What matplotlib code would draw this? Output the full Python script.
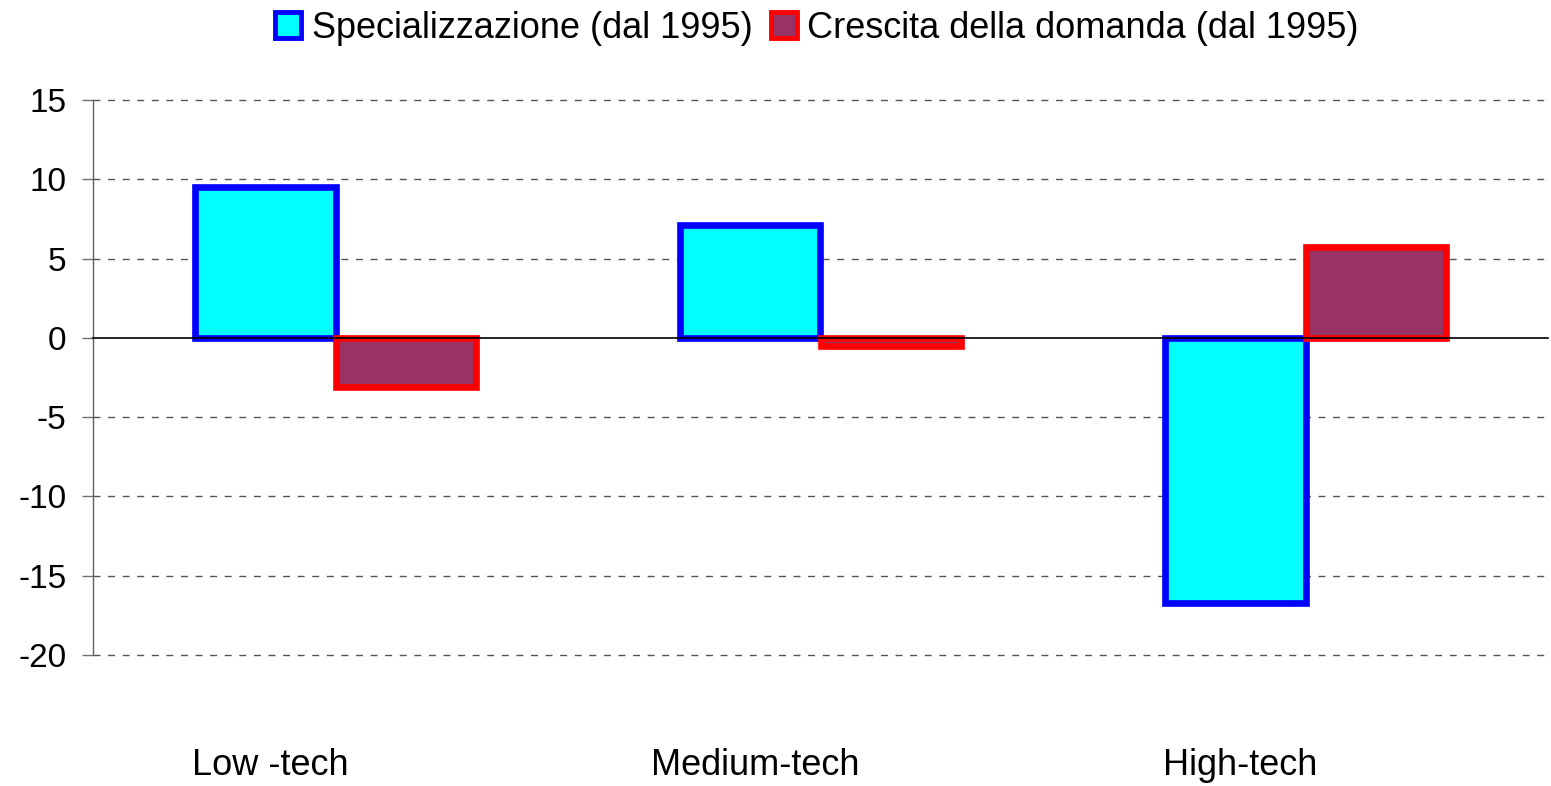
import numpy as np
import matplotlib
matplotlib.use("Agg")
import matplotlib.pyplot as plt
from matplotlib.patches import Patch

categories = ["Low -tech", "Medium-tech", "High-tech"]
specializzazione = [9.5, 7.1, -16.7]
crescita_domanda = [-3.1, -0.5, 5.7]
series_names = ["Specializzazione (dal 1995)", "Crescita della domanda (dal 1995)"]
yticks = [15, 10, 5, 0, -5, -10, -15, -20]

plt.rcParams['font.family'] = ['Liberation Sans', 'DejaVu Sans']

fig = plt.figure(figsize=(15.51, 7.86), dpi=100)
ax = fig.add_axes([93/1551, 1-655/786, (1548-93)/1551, (655-100)/786])

x = np.arange(len(categories))
w = 0.29
lw_bar = 4.8
ax.bar(x - w/2, specializzazione, width=w, color='#00FFFF', edgecolor='#0000FF',
       linewidth=lw_bar, zorder=3)
ax.bar(x + w/2, crescita_domanda, width=w, color='#993366', edgecolor='#FF0000',
       linewidth=lw_bar, zorder=3)

ax.set_xlim(-0.5, 2.5)
ax.set_ylim(-20, 15)
ax.set_yticks(yticks)
ax.set_yticklabels([str(v) for v in yticks])
for v in yticks:
    if v != 0:
        ax.axhline(v, color='#555555', lw=1.0, dashes=(5, 5.5), zorder=1, clip_on=False)
ax.axhline(0, color='black', lw=1.2, zorder=5, clip_on=False)

ax.set_xticks(x - 0.135)
ax.set_xticklabels(categories, fontsize=26)
ax.tick_params(axis='x', length=0, pad=67)
ax.tick_params(axis='y', length=8, width=1, color='#707070', pad=11, labelsize=24)

for s in ['top', 'right', 'bottom']:
    ax.spines[s].set_visible(False)
ax.spines['left'].set_color('#606060')
ax.spines['left'].set_linewidth(1.0)

handles = [Patch(facecolor='#00FFFF', edgecolor='#0000FF', linewidth=3.5),
           Patch(facecolor='#993366', edgecolor='#FF0000', linewidth=3.5)]
fig.legend(handles, series_names, loc='center', bbox_to_anchor=(817/1551, 1-28/786),
           ncol=2, frameon=False, fontsize=26, handlelength=0.72, handleheight=0.72,
           handletextpad=0.3, columnspacing=0.5, borderpad=0)

fig.savefig("out.png", dpi=100)
